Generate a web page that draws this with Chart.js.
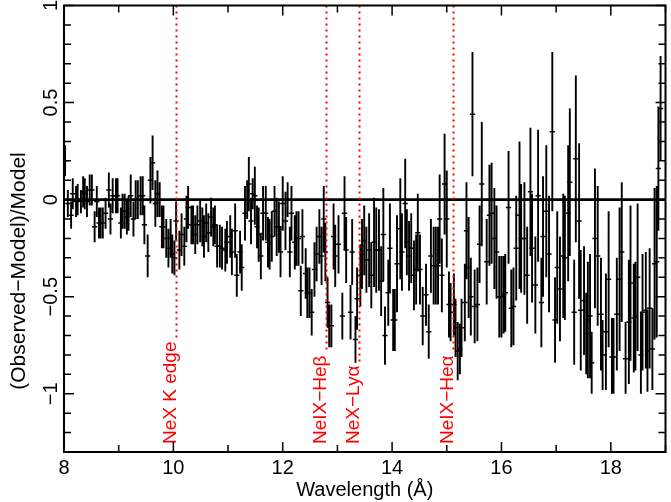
<!DOCTYPE html>
<html>
<head>
<meta charset="utf-8">
<script src="https://cdn.jsdelivr.net/npm/chart.js@4.4.1/dist/chart.umd.min.js"></script>
<style>
  html, body { margin: 0; padding: 0; background: #fff; }
  #wrap { width: 671px; height: 502px; }
</style>
</head>
<body>
<div id="wrap"><canvas id="ratio-chart" width="671" height="502"></canvas></div>
<script>
// residuals: wavelength (A), (obs-model)/model, 1-sigma error
const wavelength = [
  8.02, 8.07, 8.13, 8.16, 8.22, 8.25, 8.31, 8.35, 8.38, 8.42, 8.47, 8.51, 8.56, 8.60, 8.64, 8.67, 8.71, 8.76, 8.82, 8.85,
  8.89, 8.95, 8.98, 9.04, 9.07, 9.11, 9.15, 9.18, 9.22, 9.27, 9.31, 9.35, 9.40, 9.44, 9.47, 9.53, 9.58, 9.62, 9.67, 9.71,
  9.75, 9.79, 9.82, 9.87, 9.91, 9.95, 9.98, 10.02, 10.05, 10.11, 10.15, 10.20, 10.24, 10.27, 10.33, 10.36, 10.40, 10.44, 10.49, 10.53,
  10.56, 10.60, 10.64, 10.69, 10.73, 10.76, 10.80, 10.85, 10.89, 10.95, 10.98, 11.04, 11.07, 11.13, 11.16, 11.22, 11.25, 11.31, 11.35, 11.38,
  11.42, 11.45, 11.49, 11.53, 11.56, 11.60, 11.64, 11.69, 11.73, 11.76, 11.80, 11.85, 11.89, 11.93, 11.96, 12.00, 12.05, 12.09, 12.13, 12.16,
  12.22, 12.25, 12.29, 12.33, 12.36, 12.42, 12.45, 12.49, 12.53, 12.58, 12.62, 12.67, 12.71, 12.75, 12.78, 12.82, 12.85, 12.89, 12.93, 12.96,
  13.02, 13.09, 13.13, 13.16, 13.24, 13.27, 13.33, 13.36, 13.42, 13.45, 13.49, 13.53, 13.58, 13.62, 13.67, 13.71, 13.76, 13.80, 13.84, 13.87,
  13.93, 13.96, 14.02, 14.05, 14.09, 14.15, 14.18, 14.24, 14.27, 14.31, 14.35, 14.40, 14.44, 14.47, 14.51, 14.56, 14.62, 14.67, 14.71, 14.76,
  14.80, 14.84, 14.87, 14.91, 14.96, 15.00, 15.04, 15.07, 15.13, 15.16, 15.20, 15.24, 15.27, 15.33, 15.36, 15.40, 15.44, 15.47, 15.51, 15.56,
  15.60, 15.64, 15.73, 15.78, 15.82, 15.87, 15.91, 15.96, 16.00, 16.04, 16.07, 16.13, 16.18, 16.22, 16.27, 16.33, 16.36, 16.42, 16.47, 16.53,
  16.56, 16.62, 16.67, 16.73, 16.76, 16.82, 16.87, 16.93, 16.98, 17.02, 17.07, 17.13, 17.16, 17.22, 17.25, 17.33, 17.36, 17.42, 17.45, 17.51,
  17.55, 17.58, 17.62, 17.65, 17.71, 17.76, 17.82, 17.85, 17.91, 17.96, 18.02, 18.05, 18.11, 18.16, 18.20, 18.27, 18.33, 18.36, 18.42, 18.45,
  18.49, 18.55, 18.58, 18.64, 18.67, 18.71, 18.76, 18.80, 18.84, 18.87, 18.91
];
const ratio = [
  0.20, -0.02, -0.08, 0.03, -0.01, 0.00, -0.01, 0.04, 0.03, -0.01, 0.05, 0.05, -0.14, -0.01, -0.12, -0.12, -0.12, -0.07, 0.05, -0.10,
  0.02, 0.02, 0.02, -0.12, -0.06, -0.06, -0.09, -0.07, 0.02, -0.10, 0.00, 0.00, 0.02, 0.02, -0.13, -0.29, 0.10, 0.19, -0.02, 0.03,
  0.00, -0.14, -0.14, -0.20, -0.25, -0.20, -0.28, -0.30, -0.11, -0.26, -0.18, -0.24, -0.10, -0.04, -0.13, -0.13, -0.18, -0.13, -0.11, -0.14,
  -0.19, -0.12, -0.17, -0.09, -0.14, -0.13, -0.24, -0.24, -0.25, -0.26, -0.22, -0.19, -0.27, -0.16, -0.39, -0.27, -0.35, -0.07, 0.00, 0.08,
  -0.11, 0.03, 0.02, -0.14, -0.18, -0.29, -0.07, -0.07, -0.22, -0.23, -0.19, -0.06, -0.14, -0.14, -0.27, -0.02, -0.11, 0.00, -0.27, -0.07,
  -0.22, -0.20, -0.20, -0.47, -0.19, -0.38, -0.48, -0.48, -0.58, -0.36, -0.28, -0.19, -0.29, -0.10, -0.27, -0.53, -0.65, -0.65, -0.19, -0.29,
  -0.23, -0.60, -0.07, -0.26, -0.58, -0.27, -0.72, -0.51, -0.39, -0.28, -0.21, -0.31, -0.26, -0.39, -0.22, -0.26, -0.26, -0.42, -0.18, -0.70,
  -0.48, -0.25, -0.62, -0.62, -0.33, -0.15, -0.27, -0.02, -0.22, -0.29, -0.25, -0.39, -0.36, -0.17, -0.36, -0.60, -0.49, -0.68, -0.29, -0.34,
  -0.34, -0.34, -0.10, -0.39, 0.08, -0.10, -0.54, -0.58, -0.54, -0.66, -0.78, -0.77, -0.66, -0.53, -0.16, -0.35, -0.50, 0.44, -0.55, -0.54,
  -0.23, 0.08, -0.32, -0.08, -0.07, -0.20, -0.27, -0.50, -0.50, -0.49, -0.48, -0.04, -0.56, -0.55, -0.25, -0.08, -0.20, -0.20, -0.39, 0.04,
  -0.25, -0.44, 0.02, -0.53, -0.19, -0.06, -0.28, 0.35, -0.62, -0.35, -0.46, -0.29, -0.30, -0.07, 0.09, -0.58, 0.21, -0.11, -0.57, -0.52,
  -0.69, -0.62, -0.60, -0.84, -0.20, -0.29, -0.59, -0.80, -0.68, -0.41, -0.81, -0.81, -0.59, -0.41, -0.27, -0.82, -0.63, -0.43, -0.61, -0.60,
  -0.40, -0.80, -0.58, -0.57, -0.78, -0.56, -0.77, -0.33, -0.32, 0.16, 0.47
];
const ratioErr = [
  0.08, 0.07, 0.07, 0.08, 0.08, 0.08, 0.06, 0.08, 0.08, 0.08, 0.08, 0.08, 0.08, 0.08, 0.08, 0.08, 0.08, 0.08, 0.09, 0.08,
  0.09, 0.09, 0.09, 0.08, 0.09, 0.09, 0.09, 0.09, 0.11, 0.09, 0.10, 0.10, 0.10, 0.10, 0.10, 0.11, 0.12, 0.14, 0.12, 0.12,
  0.09, 0.11, 0.11, 0.10, 0.10, 0.10, 0.10, 0.09, 0.10, 0.10, 0.11, 0.10, 0.12, 0.11, 0.10, 0.10, 0.10, 0.10, 0.11, 0.10,
  0.11, 0.10, 0.10, 0.10, 0.10, 0.10, 0.11, 0.11, 0.11, 0.11, 0.11, 0.11, 0.12, 0.14, 0.11, 0.11, 0.12, 0.14, 0.10, 0.14,
  0.12, 0.08, 0.15, 0.11, 0.14, 0.12, 0.14, 0.14, 0.13, 0.13, 0.13, 0.13, 0.15, 0.13, 0.13, 0.14, 0.15, 0.09, 0.13, 0.14,
  0.14, 0.14, 0.14, 0.13, 0.14, 0.13, 0.13, 0.13, 0.12, 0.14, 0.14, 0.14, 0.15, 0.17, 0.15, 0.13, 0.11, 0.11, 0.17, 0.16,
  0.15, 0.12, 0.19, 0.17, 0.14, 0.17, 0.12, 0.16, 0.16, 0.18, 0.18, 0.17, 0.19, 0.17, 0.23, 0.22, 0.21, 0.18, 0.24, 0.15,
  0.17, 0.23, 0.16, 0.16, 0.25, 0.26, 0.20, 0.23, 0.17, 0.18, 0.18, 0.18, 0.18, 0.20, 0.18, 0.15, 0.16, 0.14, 0.19, 0.20,
  0.20, 0.20, 0.23, 0.19, 0.26, 0.25, 0.17, 0.15, 0.16, 0.15, 0.15, 0.13, 0.15, 0.20, 0.25, 0.26, 0.20, 0.32, 0.19, 0.19,
  0.20, 0.32, 0.22, 0.26, 0.26, 0.26, 0.24, 0.21, 0.21, 0.20, 0.20, 0.29, 0.20, 0.20, 0.27, 0.38, 0.28, 0.29, 0.25, 0.33,
  0.28, 0.25, 0.34, 0.23, 0.31, 0.34, 0.30, 0.41, 0.22, 0.29, 0.27, 0.32, 0.32, 0.35, 0.38, 0.27, 0.43, 0.40, 0.31, 0.28,
  0.21, 0.30, 0.32, 0.16, 0.36, 0.36, 0.29, 0.18, 0.30, 0.35, 0.20, 0.20, 0.29, 0.37, 0.36, 0.19, 0.32, 0.40, 0.28, 0.28,
  0.38, 0.22, 0.30, 0.30, 0.21, 0.31, 0.21, 0.39, 0.39, 0.32, 0.27
];

// marked lines
const lineWavelength = [10.04, 12.79, 13.39, 15.11];
const lineLabels = ['NeX K edge', 'NeIX\u2212He\u03b2', 'NeX\u2212Ly\u03b1', 'NeIX\u2212He\u03b1'];

const yTickLabels = [1, 0.5, 0, -0.5, -1];
const xTickLabels = [8, 10, 12, 14, 16, 18];

const FONT = '"Liberation Sans", Arial, Helvetica, sans-serif';

// vertical error bars, clipped to the plot box and at ratio = -1
const errorBars = {
    id: 'errorBars',
    beforeDatasetsDraw(chart) {
        const { ctx, chartArea: a, scales: { x, y } } = chart;
        ctx.save();
        ctx.beginPath();
        ctx.rect(a.left, a.top, a.right - a.left, a.bottom - a.top);
        ctx.clip();
        ctx.strokeStyle = '#000';
        ctx.lineWidth = 1.9;
        ctx.beginPath();
        wavelength.forEach((w, i) => {
            const px = x.getPixelForValue(w);
            const lo = Math.max(-1, ratio[i] - ratioErr[i]);
            ctx.moveTo(px, y.getPixelForValue(ratio[i] + ratioErr[i]));
            ctx.lineTo(px, y.getPixelForValue(lo));
        });
        ctx.stroke();
        ctx.restore();
    }
};

// frame, inward ticks, rotated labels, line markers
const frame = {
    id: 'frame',
    afterDraw(chart) {
        const { ctx, chartArea: a, scales: { x, y } } = chart;
        ctx.save();

        // red dotted lines + labels
        ctx.font = '19px ' + FONT;
        lineWavelength.forEach((w, i) => {
            const px = Math.round(x.getPixelForValue(w)) + 0.5;
            const startY = 444;
            const tw = ctx.measureText(lineLabels[i]).width;
            ctx.strokeStyle = '#ff0000';
            ctx.lineWidth = 2;
            ctx.setLineDash([2, 4]);
            ctx.beginPath();
            ctx.moveTo(px, a.top);
            ctx.lineTo(px, startY - tw - 4);
            ctx.stroke();
            ctx.setLineDash([]);

            ctx.save();
            ctx.translate(px - 0.5, startY);
            ctx.rotate(-Math.PI / 2);
            ctx.fillStyle = '#ff0000';
            ctx.textAlign = 'left';
            ctx.textBaseline = 'alphabetic';
            ctx.fillText(lineLabels[i], 0, 0);
            ctx.restore();
        });

        // box
        ctx.strokeStyle = '#000';
        ctx.lineWidth = 2;
        ctx.strokeRect(a.left, a.top, a.right - a.left, a.bottom - a.top);

        // x ticks top & bottom
        ctx.lineWidth = 1.5;
        ctx.beginPath();
        x.ticks.forEach(t => {
            const px = x.getPixelForValue(t.value);
            const len = t.value % 2 === 0 ? 10 : 7;
            ctx.moveTo(px, a.bottom);
            ctx.lineTo(px, a.bottom - len);
            ctx.moveTo(px, a.top);
            ctx.lineTo(px, a.top + len);
        });
        // y ticks left & right
        y.ticks.forEach(t => {
            const py = y.getPixelForValue(t.value);
            const major = Math.abs(t.value * 2 - Math.round(t.value * 2)) < 1e-6;
            const len = major ? 10 : 7;
            ctx.moveTo(a.left, py);
            ctx.lineTo(a.left + len, py);
            ctx.moveTo(a.right, py);
            ctx.lineTo(a.right - len, py);
        });
        ctx.stroke();

        // y tick labels, rotated
        ctx.fillStyle = '#000';
        ctx.font = '20px ' + FONT;
        ctx.textAlign = 'center';
        ctx.textBaseline = 'alphabetic';
        yTickLabels.forEach(v => {
            const py = y.getPixelForValue(v);
            ctx.save();
            ctx.translate(57, py);
            ctx.rotate(-Math.PI / 2);
            ctx.fillText(String(v).replace('-', '\u2212'), 0, 0);
            ctx.restore();
        });

        // y title
        ctx.font = '21px ' + FONT;
        ctx.save();
        ctx.translate(25, 271);
        ctx.rotate(-Math.PI / 2);
        ctx.fillText('(Observed\u2212Model)/Model', 0, 0);
        ctx.restore();

        ctx.restore();
    }
};

function renderRatioChart() {
    const ctx = document.getElementById('ratio-chart').getContext('2d');

    new Chart(ctx, {
        type: 'scatter',
        data: {
            datasets: [
                {
                    type: 'line',
                    data: [{ x: 8, y: 0 }, { x: 19, y: 0 }],
                    borderColor: '#000',
                    borderWidth: 2.6,
                    pointRadius: 0,
                    order: 1,
                },
                {
                    data: wavelength.map((w, i) => ({ x: w, y: ratio[i] })),
                    pointStyle: 'line',
                    pointRadius: 2.6,
                    borderColor: '#000',
                    borderWidth: 1.5,
                    showLine: false,
                    order: 2,
                }
            ]
        },
        options: {
            responsive: false,
            animation: false,
            devicePixelRatio: 1,
            layout: { padding: { top: 2, right: 2, left: 0, bottom: 0 } },
            plugins: {
                legend: { display: false },
                tooltip: { enabled: false },
            },
            scales: {
                x: {
                    type: 'linear',
                    min: 8,
                    max: 19,
                    grid: { display: false, drawTicks: false },
                    border: { display: false },
                    ticks: {
                        stepSize: 1,
                        autoSkip: false,
                        maxRotation: 0,
                        padding: 4,
                        color: '#000',
                        font: { family: FONT, size: 20 },
                        callback: v => xTickLabels.includes(v) ? String(v) : '',
                    },
                    title: {
                        display: true,
                        text: 'Wavelength (\u00c5)',
                        color: '#000',
                        font: { family: FONT, size: 20 },
                        padding: { top: 0, bottom: 0 },
                    },
                    afterFit: scale => { scale.height = 50; },
                },
                y: {
                    type: 'linear',
                    min: -1.3,
                    max: 1,
                    grid: { display: false, drawTicks: false },
                    border: { display: false },
                    ticks: { stepSize: 0.1, display: false },
                    afterFit: scale => { scale.width = 64; },
                }
            }
        },
        plugins: [errorBars, frame]
    });
}

renderRatioChart();
</script>
</body>
</html>
